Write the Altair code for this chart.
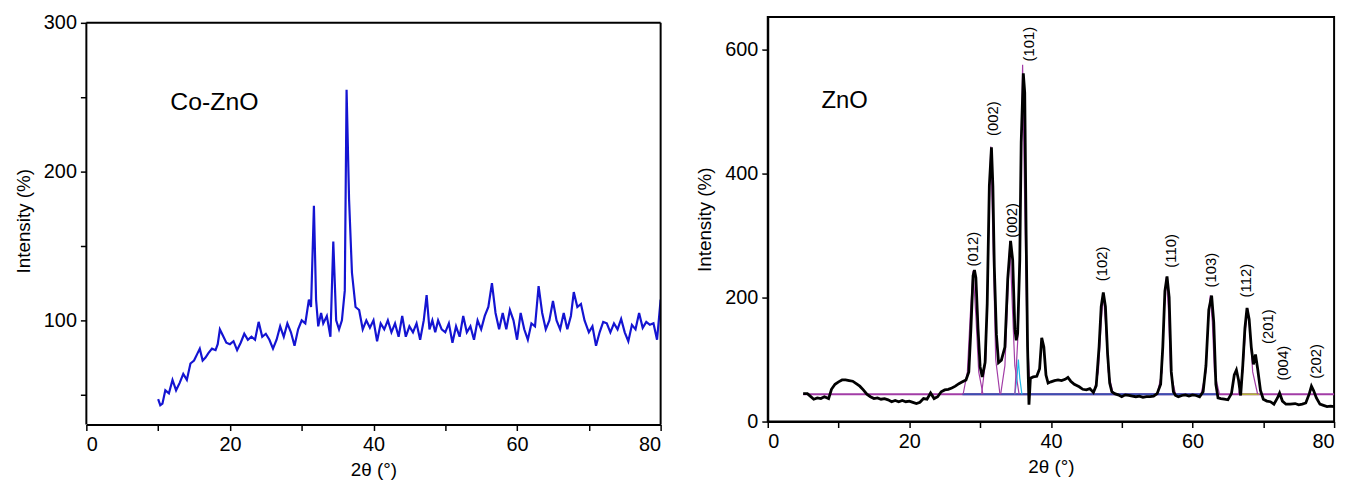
import altair as alt
import pandas as pd

FONT = "Liberation Sans"

# ---------------- Co-ZnO (left) ----------------
co_x = [10.0, 10.3, 10.6, 11.0, 11.5, 12.0, 12.5, 13.0, 13.5, 14.0, 14.5, 15.0, 15.5, 15.8, 16.2, 16.6,
        17.0, 17.5, 18.0, 18.3, 18.6, 19.0, 19.5, 20.0, 20.5, 21.0, 21.5, 22.0, 22.5, 23.0, 23.5, 24.0,
        24.5, 25.0, 25.5, 26.0, 26.5, 27.0, 27.5, 28.0, 28.5, 29.0, 29.5, 30.0, 30.5, 31.0, 31.3, 31.7,
        32.0, 32.3, 32.7, 33.0, 33.5, 34.0, 34.4, 34.8, 35.2, 35.6, 36.0, 36.25, 36.6, 37.0, 37.5, 38.0,
        38.5, 39.0, 39.5, 40.0, 40.5, 41.0, 41.5, 42.0, 42.5, 43.0, 43.5, 44.0, 44.5, 45.0, 45.5, 46.0,
        46.5, 47.0, 47.4, 47.8, 48.2, 48.6, 49.0, 49.5, 50.0, 50.5, 51.0, 51.5, 52.0, 52.5, 53.0, 53.5,
        54.0, 54.5, 55.0, 55.5, 56.0, 56.5, 57.0, 57.5, 58.0, 58.5, 59.0, 59.5, 60.0, 60.5, 61.0, 61.5,
        62.0, 62.5, 63.0, 63.5, 64.0, 64.5, 65.0, 65.5, 66.0, 66.5, 67.0, 67.5, 67.9, 68.4, 68.9, 69.4,
        70.0, 70.5, 71.0, 71.5, 72.0, 72.5, 73.0, 73.5, 74.0, 74.5, 75.0, 75.5, 76.0, 76.5, 77.0, 77.5,
        78.0, 78.5, 79.0, 79.5, 80.0]
co_y = [47, 43, 44, 53, 51, 60, 53, 58, 64, 60, 71, 73, 78, 81, 73, 75,
        78, 81, 80, 84, 94, 90, 85, 84, 86, 80, 85, 91, 87, 89, 87, 99,
        89, 91, 87, 81, 87, 96, 89, 98, 92, 83, 94, 100, 98, 114, 109, 177,
        114, 96, 105, 98, 103, 89, 153, 100, 94, 100, 120, 255, 181, 132, 109, 107,
        94, 100, 95, 100, 86, 98, 94, 100, 92, 98, 89, 103, 89, 96, 92, 98,
        87, 100, 117, 94, 100, 92, 100, 94, 92, 98, 85, 96, 89, 103, 92, 96,
        87, 100, 94, 103, 109, 125, 105, 94, 105, 94, 107, 100, 87, 105, 94, 87,
        98, 96, 123, 105, 94, 100, 113, 100, 94, 105, 94, 103, 119, 109, 111, 100,
        92, 96, 83, 92, 99, 98, 92, 98, 94, 101, 92, 86, 97, 94, 105, 95,
        99, 97, 98, 87, 114]

# ---------------- ZnO (right) ----------------
zn_x = [5.0, 5.6, 6.0, 6.5, 7.0, 7.5, 8.0, 8.6, 9.0, 9.5, 10.0, 10.5, 11.0, 11.5, 12.0, 12.5, 13.0, 13.5,
        14.0, 14.5, 15.0, 15.5, 16.0, 16.5, 17.0, 17.5, 18.0, 18.5, 19.0, 19.5, 20.0, 20.5, 21.0, 21.5,
        22.0, 22.5, 23.0, 23.5, 24.0, 24.5, 25.0, 25.5, 26.0, 26.5, 27.0, 27.5, 28.0, 28.4, 28.7, 29.0,
        29.2, 29.4, 29.7, 30.0, 30.3, 30.7, 31.0, 31.3, 31.6, 31.8, 32.0, 32.3, 32.6, 33.0, 33.5, 33.9,
        34.3, 34.6, 34.9, 35.1, 35.3, 35.6, 35.8, 36.1, 36.3, 36.5, 36.7, 36.9, 37.1, 37.5, 38.0, 38.4,
        38.7, 39.0, 39.3, 39.6, 40.0, 40.5, 41.0, 41.5, 42.0, 42.4, 42.8, 43.3, 44.0, 44.5, 45.0, 45.5,
        46.0, 46.4, 46.8, 47.1, 47.4, 47.7, 48.0, 48.3, 48.6, 49.0, 49.5, 50.0, 50.5, 51.0, 51.5, 52.0,
        52.5, 53.0, 53.5, 54.0, 54.5, 55.0, 55.5, 55.8, 56.1, 56.4, 56.7, 57.0, 57.3, 57.6, 58.0, 58.5,
        59.0, 59.5, 60.0, 60.5, 61.0, 61.5, 61.9, 62.3, 62.7, 63.0, 63.3, 63.6, 64.0, 64.5, 65.0, 65.5,
        65.9, 66.2, 66.5, 66.8, 67.1, 67.4, 67.7, 68.0, 68.3, 68.6, 68.9, 69.2, 69.6, 70.0, 70.5, 71.0,
        71.5, 72.0, 72.3, 72.7, 73.2, 73.8, 74.5, 75.0, 75.5, 76.0, 76.5, 76.8, 77.1, 77.5, 78.0, 78.5,
        79.0, 79.5, 80.0]
zn_y = [45, 45, 41, 36, 38, 37, 40, 37, 52, 60, 64, 67, 67, 66, 65, 61, 57, 51,
        44, 40, 37, 38, 36, 37, 35, 32, 34, 32, 34, 32, 33, 31, 29, 31,
        37, 36, 46, 37, 40, 48, 51, 52, 54, 57, 61, 64, 67, 80, 150, 235,
        244, 232, 150, 88, 72, 95, 190, 380, 442, 380, 250, 140, 95, 99, 120, 230,
        291, 260, 150, 131, 142, 260, 450, 561, 530, 300, 120, 27, 70, 72, 73, 85,
        135, 120, 75, 62, 64, 66, 67, 66, 68, 71, 65, 60, 56, 52, 51, 53,
        47, 58, 120, 185, 208, 185, 110, 62, 48, 45, 43, 40, 43, 42, 41, 40,
        41, 39, 40, 40, 41, 45, 60, 120, 210, 234, 200, 80, 48, 42, 40, 42,
        43, 41, 43, 42, 40, 48, 90, 180, 203, 160, 60, 38, 37, 36, 35, 45,
        75, 83, 67, 42, 90, 150, 183, 165, 120, 92, 108, 85, 50, 36, 33, 32,
        28, 38, 46, 33, 28, 28, 29, 27, 28, 30, 45, 57, 50, 38, 28, 26,
        24, 25, 24]

# fitted peak profiles (purple / cyan)
fit_names = ["f012", "f002a", "f002b", "fcyan", "f101", "f102", "f110", "f103", "f112"]
fit_xs = [
    [27.6, 28.2, 28.6, 29.0, 29.4, 29.8, 30.4],
    [30.2, 30.8, 31.2, 31.5, 31.8, 32.2, 32.8],
    [32.9, 33.5, 33.9, 34.2, 34.5, 34.9, 35.5],
    [34.9, 35.2, 35.4, 35.6, 35.9],
    [34.9, 35.4, 35.8, 36.0, 36.2, 36.6, 37.1],
    [46.0, 46.7, 47.1, 47.4, 47.7, 48.1, 48.8],
    [55.0, 55.7, 56.0, 56.3, 56.6, 56.9, 57.6],
    [61.2, 61.9, 62.2, 62.5, 62.8, 63.1, 63.8],
    [66.5, 67.1, 67.5, 67.8, 68.1, 68.5, 69.2],
]
fit_ys = [
    [44, 80, 170, 243, 170, 80, 44],
    [44, 100, 300, 443, 300, 100, 44],
    [44, 90, 200, 291, 200, 90, 44],
    [44, 70, 100, 70, 44],
    [44, 150, 420, 575, 420, 150, 44],
    [44, 80, 160, 206, 160, 80, 44],
    [44, 80, 180, 233, 180, 80, 44],
    [44, 80, 160, 203, 160, 80, 44],
    [44, 80, 150, 182, 150, 80, 44],
]
fit_colors = ["#a23ca6", "#a23ca6", "#a23ca6", "#22b8e8", "#a23ca6", "#a23ca6", "#a23ca6", "#a23ca6", "#a23ca6"]

# baseline segments
base_names = ["purple", "blue", "olive"]
base_x1 = [5.0, 27.5, 66.9]
base_x2 = [80.0, 63.5, 69.4]
base_y = [44, 44, 44]
base_colors = ["#a23ca6", "#3a4fb0", "#b2b23c"]

# peak labels
lab_text = ["(012)", "(002)", "(002)", "(101)", "(102)", "(110)", "(103)", "(112)", "(201)", "(004)", "(202)"]
lab_x = [29.0, 31.8, 34.5, 36.9, 47.2, 56.9, 62.6, 67.6, 70.7, 72.8, 77.4]
lab_y = [250, 460, 296, 580, 226, 248, 216, 200, 125, 66, 69]

# left frame (box drawn as rules)
box_x1 = [0, 0, 80]
box_x2 = [80, 0, 80]
box_y1 = [300, 30, 30]
box_y2 = [300, 300, 300]

# ---------------- build ----------------
co_df = pd.DataFrame({"x": co_x, "y": co_y})
zn_df = pd.DataFrame({"x": zn_x, "y": zn_y})
fit_rows = []
for n, xs, ys, c in zip(fit_names, fit_xs, fit_ys, fit_colors):
    for i, (a, b) in enumerate(zip(xs, ys)):
        fit_rows.append({"peak": n, "x": a, "y": b, "c": c, "i": i})
fit_df = pd.DataFrame(fit_rows)
base_df = pd.DataFrame({"name": base_names, "x1": base_x1, "x2": base_x2, "y": base_y, "c": base_colors})
lab_df = pd.DataFrame({"t": lab_text, "x": lab_x, "y": lab_y})
box_df = pd.DataFrame({"x1": box_x1, "x2": box_x2, "y1": box_y1, "y2": box_y2})


def xaxis():
    return alt.Axis(values=[0, 10, 20, 30, 40, 50, 60, 70, 80],
                    labelExpr="datum.value % 20 == 0 ? datum.label : ''",
                    title="2θ (°)", titlePadding=6)


xs_left = alt.Scale(domain=[0, 80], nice=False, zero=False)
ys_left = alt.Scale(domain=[30, 304], nice=False, zero=False)

left_line = alt.Chart(co_df).mark_line(color="#1414d2", strokeWidth=2.2, clip=True).encode(
    x=alt.X("x:Q", scale=xs_left, axis=xaxis()),
    y=alt.Y("y:Q", scale=ys_left,
            axis=alt.Axis(values=[50, 100, 150, 200, 250, 300], domain=False,
                          labelExpr="datum.value % 100 == 0 ? datum.label : ''",
                          title="Intensity (%)", titlePadding=10)),
    order="x:Q",
)
left_box = alt.Chart(box_df).mark_rule(color="black", strokeWidth=2).encode(
    x=alt.X("x1:Q", scale=xs_left), x2="x2:Q",
    y=alt.Y("y1:Q", scale=ys_left), y2="y2:Q",
)
left_text = alt.Chart(pd.DataFrame({"t": ["Co-ZnO"], "x": [11.7], "y": [247]})).mark_text(
    align="left", baseline="middle", font=FONT, fontSize=25, color="black"
).encode(x=alt.X("x:Q", scale=xs_left), y=alt.Y("y:Q", scale=ys_left), text="t:N")

left = alt.layer(left_line, left_box, left_text).properties(
    width=579, height=411, view=alt.ViewBackground(strokeOpacity=0)
)

xs_right = alt.Scale(domain=[0, 80], nice=False, zero=False)
ys_right = alt.Scale(domain=[0, 652], nice=False, zero=False)

r_base = alt.Chart(base_df).mark_rule(strokeWidth=1.8).encode(
    x=alt.X("x1:Q", scale=xs_right, axis=xaxis()),
    x2="x2:Q",
    y=alt.Y("y:Q", scale=ys_right,
            axis=alt.Axis(values=[0, 200, 400, 600], title="Intensity (%)", titlePadding=10)),
    color=alt.Color("c:N", scale=None),
)
r_fit = alt.Chart(fit_df).mark_line(strokeWidth=1.2).encode(
    x=alt.X("x:Q", scale=xs_right),
    y=alt.Y("y:Q", scale=ys_right),
    detail="peak:N",
    order="i:Q",
    color=alt.Color("c:N", scale=None),
)
r_line = alt.Chart(zn_df).mark_line(color="black", strokeWidth=2.8).encode(
    x=alt.X("x:Q", scale=xs_right),
    y=alt.Y("y:Q", scale=ys_right),
    order="x:Q",
)
r_labels = alt.Chart(lab_df).mark_text(
    angle=270, align="left", baseline="middle", font=FONT, fontSize=15, color="black"
).encode(x=alt.X("x:Q", scale=xs_right), y=alt.Y("y:Q", scale=ys_right), text="t:N")
r_text = alt.Chart(pd.DataFrame({"t": ["ZnO"], "x": [7.6], "y": [517]})).mark_text(
    align="left", baseline="middle", font=FONT, fontSize=24, color="black"
).encode(x=alt.X("x:Q", scale=xs_right), y=alt.Y("y:Q", scale=ys_right), text="t:N")

right = alt.layer(r_base, r_fit, r_line, r_labels, r_text).properties(width=571, height=408)

chart = alt.hconcat(left, right, spacing=33).properties(
    padding={"left": 6, "top": 2, "right": 5, "bottom": 3}
).configure_view(
    stroke="black", strokeWidth=2
).configure_axis(
    grid=False,
    labelFont=FONT, labelFontSize=20, labelColor="black", labelPadding=4,
    titleFont=FONT, titleFontSize=19, titleFontWeight="normal", titleColor="black",
    tickColor="black", tickSize=6, tickWidth=1.5,
    domainColor="black", domainWidth=2,
)

chart.save("out.html", embed_options={"renderer": "svg", "actions": False})
